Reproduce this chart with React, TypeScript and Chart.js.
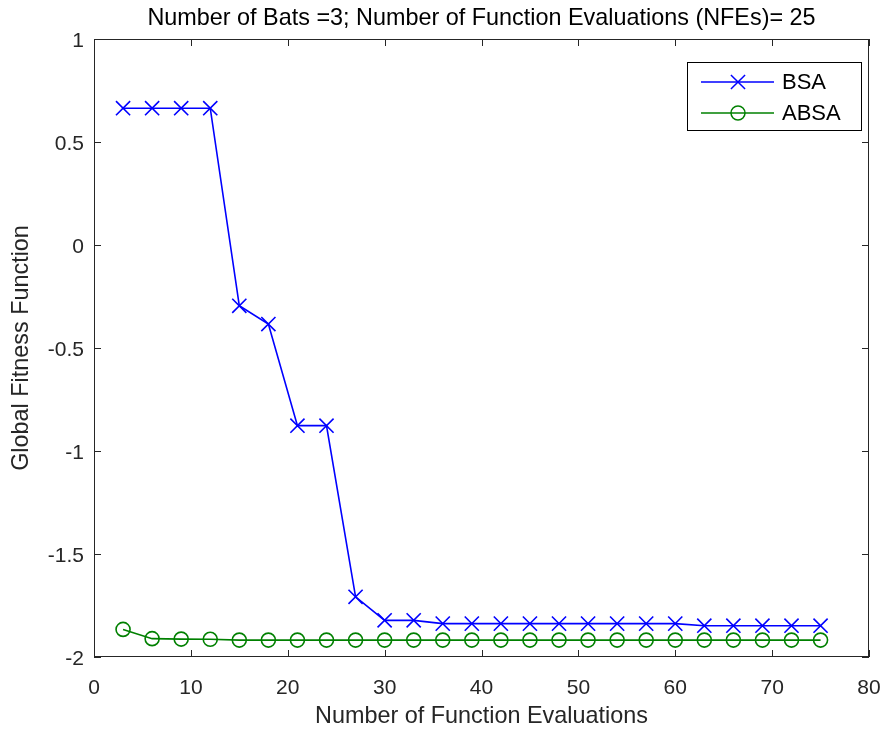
import React, { useEffect, useRef } from "react";
import { Chart, registerables } from "chart.js";

Chart.register(...registerables);

const titleText = "Number of Bats =3; Number of Function Evaluations (NFEs)= 25";
const xLabel = "Number of Function Evaluations";
const yLabel = "Global Fitness Function";
const seriesNames = ["BSA", "ABSA"];
const nfe = [3, 6, 9, 12, 15, 18, 21, 24, 27, 30, 33, 36, 39, 42, 45, 48, 51, 54, 57, 60, 63, 66, 69, 72, 75];
const bsa = [
  0.664, 0.664, 0.664, 0.664, -0.295, -0.384, -0.877, -0.877, -1.708, -1.822, -1.822, -1.838, -1.838,
  -1.838, -1.838, -1.838, -1.838, -1.838, -1.838, -1.838, -1.848, -1.848, -1.848, -1.848, -1.848,
];
const absa = [
  -1.866, -1.911, -1.913, -1.914, -1.918, -1.918, -1.918, -1.918, -1.918, -1.918, -1.918, -1.918, -1.918,
  -1.918, -1.918, -1.918, -1.918, -1.918, -1.918, -1.918, -1.918, -1.918, -1.918, -1.918, -1.918,
];
const xTicks = [0, 10, 20, 30, 40, 50, 60, 70, 80];
const yTicks = [-2, -1.5, -1, -0.5, 0, 0.5, 1];

const FONT = "'Liberation Sans', Arial, Helvetica, sans-serif";
const AXIS_COLOR = "#262626";
const BLUE = "#0000ff";
const GREEN = "#008000";
const LABEL_SIZE = 23.4;
const TICK_SIZE = 21;

const framePlugin = {
  id: "matlabFrame",
  afterDraw(chart: any) {
    const { ctx, chartArea: a, scales } = chart;
    const xs = scales.x;
    const ys = scales.y;
    ctx.save();
    ctx.strokeStyle = AXIS_COLOR;
    ctx.lineWidth = 1;
    ctx.strokeRect(a.left + 0.5, a.top + 0.5, a.right - a.left - 1, a.bottom - a.top - 1);
    const tl = 7;
    ctx.beginPath();
    xTicks.forEach((v) => {
      const px = Math.round(xs.getPixelForValue(v)) + 0.5;
      ctx.moveTo(px, a.bottom);
      ctx.lineTo(px, a.bottom - tl);
      ctx.moveTo(px, a.top);
      ctx.lineTo(px, a.top + tl);
    });
    yTicks.forEach((v) => {
      const py = Math.round(ys.getPixelForValue(v)) + 0.5;
      ctx.moveTo(a.left, py);
      ctx.lineTo(a.left + tl, py);
      ctx.moveTo(a.right, py);
      ctx.lineTo(a.right - tl, py);
    });
    ctx.stroke();

    // title
    ctx.fillStyle = "#000000";
    ctx.font = `${LABEL_SIZE}px ${FONT}`;
    ctx.textAlign = "center";
    ctx.textBaseline = "alphabetic";
    ctx.fillText(titleText, (a.left + a.right) / 2, a.top - 14);

    // legend
    const bw = 174;
    const bh = 68;
    const bx = a.right - 8 - bw;
    const by = a.top + 23;
    ctx.fillStyle = "#ffffff";
    ctx.fillRect(bx, by, bw, bh);
    ctx.strokeStyle = "#000000";
    ctx.lineWidth = 1;
    ctx.strokeRect(bx + 0.5, by + 0.5, bw, bh);
    chart.data.datasets.forEach((ds: any, i: number) => {
      const cy = by + 20 + i * 31;
      ctx.strokeStyle = ds.borderColor;
      ctx.lineWidth = 1.5;
      ctx.beginPath();
      ctx.moveTo(bx + 14, cy);
      ctx.lineTo(bx + 87, cy);
      ctx.stroke();
      const mx = bx + 51;
      ctx.beginPath();
      if (ds.pointStyle === "crossRot") {
        const r = ds.pointRadius * 0.7071;
        ctx.moveTo(mx - r, cy - r);
        ctx.lineTo(mx + r, cy + r);
        ctx.moveTo(mx + r, cy - r);
        ctx.lineTo(mx - r, cy + r);
      } else {
        ctx.arc(mx, cy, ds.pointRadius, 0, Math.PI * 2);
      }
      ctx.stroke();
      ctx.fillStyle = "#000000";
      ctx.font = `22px ${FONT}`;
      ctx.textAlign = "left";
      ctx.textBaseline = "middle";
      ctx.fillText(ds.label, bx + 95, cy + 1);
    });
    ctx.restore();
  },
};

export default function App() {
  const ref = useRef<HTMLCanvasElement | null>(null);
  useEffect(() => {
    if (!ref.current) return;
    const chart = new Chart(ref.current, {
      type: "line",
      data: {
        datasets: [
          {
            label: seriesNames[0],
            data: nfe.map((x, i) => ({ x, y: bsa[i] })),
            borderColor: BLUE,
            backgroundColor: BLUE,
            borderWidth: 1.6,
            pointStyle: "crossRot",
            pointRadius: 10,
            pointBorderWidth: 1.6,
            pointBorderColor: BLUE,
            fill: false,
            tension: 0,
          },
          {
            label: seriesNames[1],
            data: nfe.map((x, i) => ({ x, y: absa[i] })),
            borderColor: GREEN,
            backgroundColor: "rgba(0,0,0,0)",
            borderWidth: 1.6,
            pointStyle: "circle",
            pointRadius: 7,
            pointBorderWidth: 1.6,
            pointBorderColor: GREEN,
            pointBackgroundColor: "rgba(0,0,0,0)",
            fill: false,
            tension: 0,
          },
        ],
      },
      options: {
        responsive: false,
        animation: false,
        devicePixelRatio: 1,
        layout: { padding: { top: 39, right: 20, left: 0, bottom: 0 } },
        plugins: {
          legend: { display: false },
          tooltip: { enabled: false },
          title: { display: false },
        },
        scales: {
          x: {
            type: "linear",
            min: 0,
            max: 80,
            afterBuildTicks: (s: any) => {
              s.ticks = xTicks.map((v) => ({ value: v }));
            },
            afterFit: (s: any) => {
              s.height = 78;
              s.paddingLeft = 0;
              s.paddingRight = 0;
            },
            grid: { display: false, drawTicks: false },
            border: { display: false },
            ticks: {
              padding: 19,
              color: AXIS_COLOR,
              font: { family: FONT, size: TICK_SIZE },
              maxRotation: 0,
              callback: (v: any) => String(v),
            },
            title: {
              display: true,
              text: xLabel,
              color: AXIS_COLOR,
              font: { family: FONT, size: LABEL_SIZE },
              padding: { top: 0, bottom: 4 },
            },
          },
          y: {
            type: "linear",
            min: -2,
            max: 1,
            afterBuildTicks: (s: any) => {
              s.ticks = yTicks.map((v) => ({ value: v }));
            },
            afterFit: (s: any) => {
              s.width = 94;
              s.paddingTop = 0;
              s.paddingBottom = 0;
            },
            grid: { display: false, drawTicks: false },
            border: { display: false },
            ticks: {
              padding: 10,
              labelOffset: 2,
              color: AXIS_COLOR,
              font: { family: FONT, size: TICK_SIZE },
              callback: (v: any) => String(v),
            },
            title: {
              display: true,
              text: yLabel,
              color: AXIS_COLOR,
              font: { family: FONT, size: LABEL_SIZE },
              padding: { top: 8, bottom: 0 },
            },
          },
        },
      },
      plugins: [framePlugin],
    });
    return () => chart.destroy();
  }, []);
  return (
    <canvas
      ref={ref}
      width={889}
      height={735}
      style={{ position: "absolute", left: 0, top: 0, width: 889, height: 735, background: "#ffffff" }}
    />
  );
}
